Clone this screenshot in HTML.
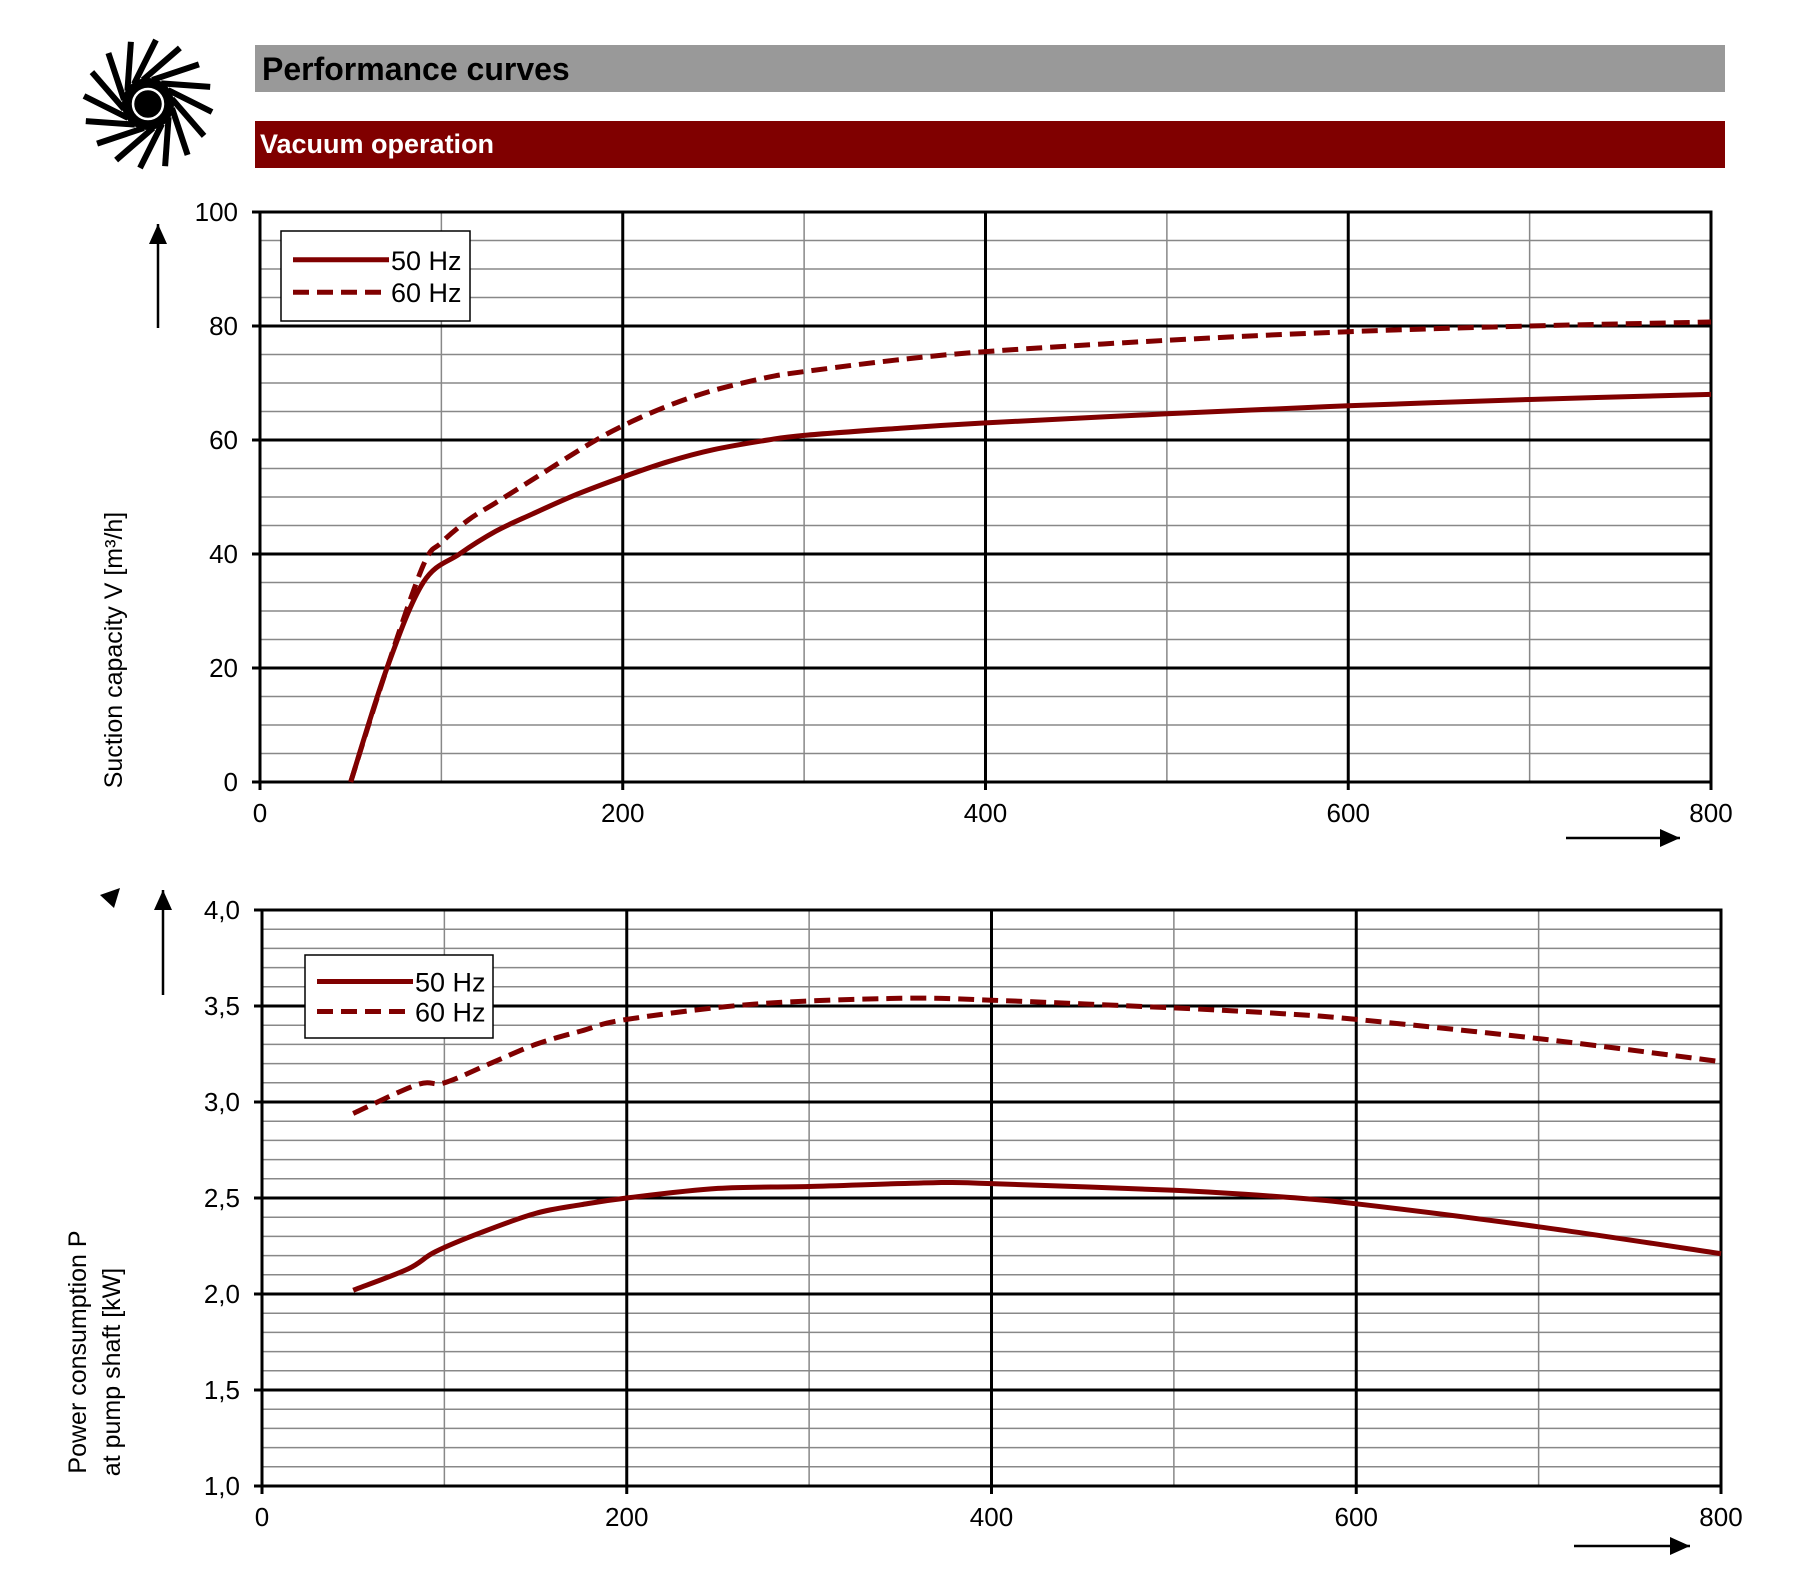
<!DOCTYPE html>
<html><head><meta charset="utf-8"><style>
body{margin:0;background:#fff;width:1811px;height:1569px;overflow:hidden}
svg{display:block;font-family:"Liberation Sans",sans-serif}
</style></head><body>
<svg id="s" width="1811" height="1569" xmlns="http://www.w3.org/2000/svg">
<rect x="255" y="45" width="1470" height="47" fill="#999"/>
<text x="262" y="80" font-size="32" font-weight="bold" fill="#000">Performance curves</text>
<rect x="255" y="121" width="1470" height="47" fill="#800000"/>
<text x="260" y="153" font-size="27" font-weight="bold" fill="#fff">Vacuum operation</text>
<g id="logo" transform="translate(148,104)"></g>
<g id="g"></g>
</svg>
<script>
const NS="http://www.w3.org/2000/svg";
function el(p,t,a,txt){const e=document.createElementNS(NS,t);for(const k in a)e.setAttribute(k,a[k]);if(txt!==undefined)e.textContent=txt;p.appendChild(e);return e;}
const g=document.getElementById('g');
const lg=document.getElementById('logo');
for(let i=0;i<16;i++){const a=i*22.5;el(lg,'line',{x1:-14,y1:-20,x2:8,y2:-64,stroke:'#000','stroke-width':6,transform:`rotate(${a})`});}
el(lg,'circle',{r:26,fill:'#000'});
el(lg,'circle',{r:15,fill:'#000',stroke:'#fff','stroke-width':2.5});
function smooth(P){let d='M'+P[0][0].toFixed(1)+' '+P[0][1].toFixed(1);
 for(let i=0;i<P.length-1;i++){const p0=P[i-1]||P[i],p1=P[i],p2=P[i+1],p3=P[i+2]||P[i+1];
  const c1=[p1[0]+(p2[0]-p0[0])/6,p1[1]+(p2[1]-p0[1])/6],c2=[p2[0]-(p3[0]-p1[0])/6,p2[1]-(p3[1]-p1[1])/6];
  d+='C'+c1.map(v=>v.toFixed(1)).join(' ')+' '+c2.map(v=>v.toFixed(1)).join(' ')+' '+p2[0].toFixed(1)+' '+p2[1].toFixed(1);}
 return d;}
function chart(c){
 const X=v=>c.x0+(v/800)*(c.x1-c.x0), Y=v=>c.y1-(v-c.ymin)/(c.ymax-c.ymin)*(c.y1-c.y0);
 for(let v=c.ymin;v<=c.ymax+1e-9;v+=c.yminor){el(g,'line',{x1:c.x0,x2:c.x1,y1:Y(v),y2:Y(v),stroke:'#888','stroke-width':1.5});}
 for(let v=0;v<=800;v+=100){el(g,'line',{x1:X(v),x2:X(v),y1:c.y0,y2:c.y1,stroke:'#888','stroke-width':1.5});}
 for(let v=c.ymin;v<=c.ymax+1e-9;v+=c.ymajor){el(g,'line',{x1:c.x0-8,x2:c.x1,y1:Y(v),y2:Y(v),stroke:'#000','stroke-width':3});
  el(g,'text',{x:c.x0-22,y:Y(v)+9,'font-size':26,'text-anchor':'end'},c.fmt(v));}
 for(let v=0;v<=800;v+=200){el(g,'line',{x1:X(v),x2:X(v),y1:c.y0,y2:c.y1+8,stroke:'#000','stroke-width':3});
  el(g,'text',{x:X(v),y:c.y1+40,'font-size':26,'text-anchor':'middle'},String(v));}
 el(g,'rect',{x:c.x0,y:c.y0,width:c.x1-c.x0,height:c.y1-c.y0,fill:'none',stroke:'#000','stroke-width':3});
 const path=pts=>smooth(pts.map(p=>[X(p[0]),Y(p[1])]));
 el(g,'path',{d:path(c.s50),fill:'none',stroke:'#800000','stroke-width':5,'stroke-linejoin':'round'});
 el(g,'path',{d:path(c.s60),fill:'none',stroke:'#800000','stroke-width':5,'stroke-dasharray':'16 8'});
 const L=c.leg;
 el(g,'rect',{x:L[0],y:L[1],width:L[2],height:L[3],fill:'#fff',stroke:'#000','stroke-width':1.5});
 const ly1=L[1]+L[3]*0.32, ly2=L[1]+L[3]*0.68;
 el(g,'line',{x1:L[0]+12,x2:L[0]+108,y1:ly1,y2:ly1,stroke:'#800000','stroke-width':5});
 el(g,'line',{x1:L[0]+12,x2:L[0]+108,y1:ly2,y2:ly2,stroke:'#800000','stroke-width':5,'stroke-dasharray':'16 8'});
 el(g,'text',{x:L[0]+110,y:ly1+10,'font-size':27},'50 Hz');
 el(g,'text',{x:L[0]+110,y:ly2+10,'font-size':27},'60 Hz');
}
chart({x0:260,x1:1711,y0:212,y1:782,ymin:0,ymax:100,yminor:5,ymajor:20,fmt:v=>String(Math.round(v)),leg:[281,231,189,90],
 s50:[[50,0],[70,20],[90,35],[110,40],[130,44],[150,47],[175,50.5],[200,53.5],[225,56.2],[250,58.3],[280,60],[300,60.8],[350,62],[400,63],[500,64.6],[600,66],[700,67.1],[800,68]],
 s60:[[50,0],[70,20],[90,38],[100,42],[115,46],[130,49],[155,54],[180,59],[200,62.5],[225,66],[250,68.7],[280,71],[300,72],[350,74],[400,75.5],[500,77.5],[600,79],[700,80],[800,80.7]]});
chart({x0:262,x1:1721,y0:910,y1:1486,ymin:1,ymax:4,yminor:0.1,ymajor:0.5,fmt:v=>v.toFixed(1).replace('.',','),leg:[305,955,188,83],
 s50:[[50,2.02],[80,2.13],[95,2.22],[120,2.32],[150,2.42],[175,2.465],[200,2.5],[250,2.55],[300,2.56],[370,2.58],[400,2.575],[500,2.54],[560,2.505],[600,2.47],[700,2.35],[800,2.21]],
 s60:[[50,2.94],[85,3.09],[100,3.1],[125,3.2],[150,3.3],[175,3.37],[200,3.43],[270,3.51],[350,3.54],[400,3.53],[500,3.49],[560,3.46],[600,3.43],[700,3.33],[800,3.21]]});
el(g,'text',{transform:'translate(122,650) rotate(-90)','font-size':25,'text-anchor':'middle'},'Suction capacity V [m³/h]');
el(g,'text',{transform:'translate(86,1352) rotate(-90)','font-size':25,'text-anchor':'middle'},'Power consumption P');
el(g,'text',{transform:'translate(120,1372) rotate(-90)','font-size':25,'text-anchor':'middle'},'at pump shaft [kW]');
function arrow(x1,y1,x2,y2){el(g,'line',{x1,y1,x2,y2,stroke:'#000','stroke-width':2.5});
 const a=Math.atan2(y2-y1,x2-x1),L=20,W=9;
 const p=[[x2,y2],[x2-L*Math.cos(a)+W*Math.sin(a),y2-L*Math.sin(a)-W*Math.cos(a)],[x2-L*Math.cos(a)-W*Math.sin(a),y2-L*Math.sin(a)+W*Math.cos(a)]];
 el(g,'polygon',{points:p.map(q=>q.join(',')).join(' '),fill:'#000'});}
arrow(158,328,158,224);arrow(1566,838,1680,838);
arrow(163,995,163,890);arrow(1574,1546,1690,1546);
el(g,'polygon',{points:'100,895 120,888 114,908',fill:'#000'});
</script>
</body></html>
